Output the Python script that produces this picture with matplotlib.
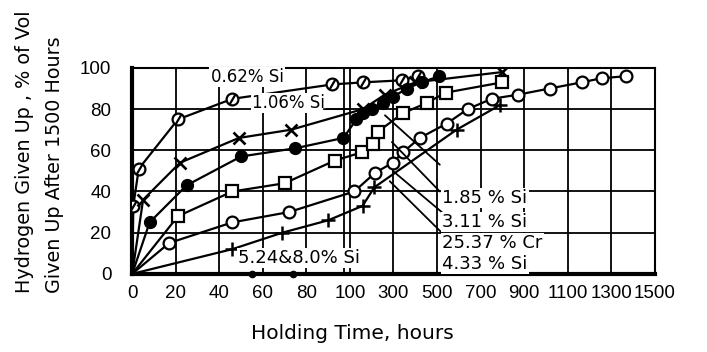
import numpy as np
import matplotlib
matplotlib.use("Agg")
from matplotlib import pyplot as plt
from matplotlib import font_manager

# holding time (h) and hydrogen given up (% of the 1500 h total) per steel
t_062 = [0, 0.5, 3, 21, 46, 92, 160, 339, 412]
h_062 = [0, 33, 51, 75, 85, 92, 93, 94, 96]

t_106 = [0, 5, 22, 49, 73, 160, 260, 400, 800]
h_106 = [0, 36, 54, 66, 70, 80, 87, 93, 98]

t_185 = [0, 8, 25, 50, 75, 97, 130, 160, 200, 250, 300, 360, 430, 510]
h_185 = [0, 25, 43, 57, 61, 66, 75, 78, 80, 83, 86, 90, 93, 96]

t_311 = [0, 21, 46, 70, 93, 155, 205, 228, 343, 453, 540, 800]
h_311 = [0, 28, 40, 44, 55, 59, 63, 69, 78, 83, 88, 93]

t_cr = [0, 17, 46, 72, 120, 215, 297, 343, 421, 545, 641, 751, 871, 1017, 1164, 1256, 1370]
h_cr = [0, 15, 25, 30, 40, 49, 54, 59, 66, 73, 80, 85, 87, 90, 93, 95, 96]

t_433 = [0, 46, 69, 90, 158, 212, 590, 790]
h_433 = [0, 12, 20, 26, 33, 42, 70, 82]

# 5.24 and 8.0 % Si gave up nothing
t_zero = [55, 74]
h_zero = [0, 0]

xticks = [0, 20, 40, 60, 80, 100, 300, 500, 700, 900, 1100, 1300, 1500]
yticks = [0, 20, 40, 60, 80, 100]


def fwd(x):
    x = np.asarray(x, dtype=float)
    return np.where(x <= 100, x / 20.0, 5 + (x - 100) / 200.0)


def inv(u):
    u = np.asarray(u, dtype=float)
    return np.where(u <= 5, u * 20.0, 100 + (u - 5) * 200.0)


plt.rcParams['font.family'] = ['DejaVu Sans']
installed = {f.name for f in font_manager.fontManager.ttflist}
if 'Liberation Sans Narrow' in installed:
    tick_font, tick_size = 'Liberation Sans Narrow', 15
else:
    tick_font, tick_size = 'Liberation Sans', 13.5

fig = plt.figure(figsize=(7.07, 3.52), dpi=100)
ax = fig.add_axes([0.187, 0.222, 0.739, 0.585])
ax.set_xscale('function', functions=(fwd, inv))
ax.set_xlim(0, 1500)
ax.set_ylim(0, 100)
ax.set_xticks(xticks)
ax.set_xticklabels([str(v) for v in xticks], fontfamily=tick_font, fontsize=tick_size)
ax.set_yticks(yticks)
ax.set_yticklabels([str(v) for v in yticks], fontfamily=tick_font, fontsize=tick_size)
ax.tick_params(length=0)
ax.tick_params(axis='x', pad=8)
ax.tick_params(axis='y', pad=15)
ax.grid(True, color='black', lw=1.3)
ax.axvline(97.5, color='black', lw=1.3)
ax.set_axisbelow(True)

for side in ['left', 'bottom']:
    ax.spines[side].set_linewidth(3)
for side in ['top', 'right']:
    ax.spines[side].set_linewidth(1.5)

lk = dict(color='black', lw=1.6, zorder=3)
slash = [(-0.5, -0.85), (0.5, 0.85)]

# 0.62 % Si - slashed open circles
ax.plot(t_062, h_062, **lk)
ax.plot(t_062[1:], h_062[1:], 'o', ms=8.5, mfc='white', mec='black', mew=1.6, zorder=4)
ax.plot(t_062[1:], h_062[1:], marker=slash, ls='none', ms=8, mfc='none', mec='black', mew=1.6, zorder=5)

# 1.06 % Si - crosses
ax.plot(t_106, h_106, **lk)
ax.plot(t_106[1:], h_106[1:], 'x', ms=8.5, mec='black', mew=1.9, zorder=4)

# 1.85 % Si - filled circles
ax.plot(t_185, h_185, **lk)
ax.plot(t_185[1:], h_185[1:], 'o', ms=8.5, mfc='black', mec='black', zorder=4)

# 3.11 % Si - open squares
ax.plot(t_311, h_311, **lk)
ax.plot(t_311[1:], h_311[1:], 's', ms=8, mfc='white', mec='black', mew=1.6, zorder=4)

# 25.37 % Cr - open circles
ax.plot(t_cr, h_cr, **lk)
ax.plot(t_cr[1:], h_cr[1:], 'o', ms=8.5, mfc='white', mec='black', mew=1.6, zorder=4)

# 4.33 % Si - plus signs
ax.plot(t_433, h_433, **lk)
ax.plot(t_433[1:], h_433[1:], '+', ms=10, mec='black', mew=1.8, zorder=4)

ax.plot(t_zero, h_zero, 'o', ms=4.5, color='black', clip_on=False, zorder=6)

box = dict(facecolor='white', edgecolor='none', pad=0.8)
ax.text(36, 95.5, '0.62% Si', va='center', fontsize=12, zorder=7, bbox=box)
ax.text(55, 83, '1.06% Si', va='center', fontsize=12, zorder=7, bbox=box)
ax.annotate('', xy=(100, 80), xytext=(88, 80),
            arrowprops=dict(arrowstyle='-', color='black', lw=1.3,
                            shrinkA=0, shrinkB=0), zorder=8)
ax.text(48.5, 7.5, '5.24&8.0% Si', va='center', fontsize=13, zorder=7, bbox=box)

right_labels = [('1.85 % Si', 37, (261, 77), (513, 53)),
                ('3.11 % Si', 25, (293, 64), (513, 40)),
                ('25.37 % Cr', 15, (297, 50), (522, 30)),
                ('4.33 % Si', 5, (283, 45), (522, 20))]
for txt, y, p0, p1 in right_labels:
    ax.annotate('', xy=p0, xytext=p1,
                arrowprops=dict(arrowstyle='-', color='black', lw=1.3,
                                shrinkA=0, shrinkB=0), zorder=6)
    ax.text(525, y, txt, va='center', fontsize=13, zorder=7, bbox=box)

fig.text(0.034, 0.168, 'Hydrogen Given Up , % of Vol', rotation=90,
         ha='center', va='bottom', fontsize=13.8)
fig.text(0.077, 0.168, 'Given Up After 1500 Hours', rotation=90,
         ha='center', va='bottom', fontsize=13.8)
fig.text(0.498, 0.052, 'Holding Time, hours', ha='center', va='center', fontsize=14.5)

fig.savefig('out.png', dpi=100)
